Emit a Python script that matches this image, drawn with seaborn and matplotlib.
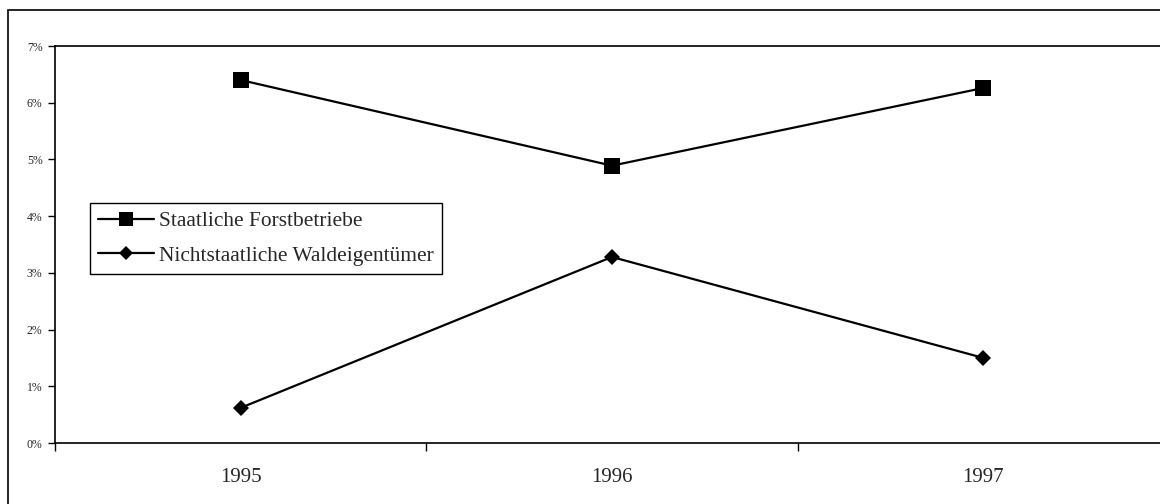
import matplotlib
matplotlib.use("Agg")
import matplotlib.pyplot as plt
import matplotlib.patches as mpatches
from matplotlib.ticker import FixedLocator, PercentFormatter
import pandas as pd
import seaborn as sns

years = ["1995", "1996", "1997"]
staatlich = [6.40, 4.89, 6.26]
nichtstaatlich = [0.62, 3.28, 1.50]
series_names = ["Staatliche Forstbetriebe", "Nichtstaatliche Waldeigentümer"]
y_ticks = [0, 1, 2, 3, 4, 5, 6, 7]

df = pd.DataFrame({
    "Jahr": years * 2,
    "Anteil": staatlich + nichtstaatlich,
    "Gruppe": [series_names[0]] * 3 + [series_names[1]] * 3,
})

sns.set_theme(style="white")
plt.rcParams["font.family"] = ["Liberation Serif", "DejaVu Serif"]

fig = plt.figure(figsize=(11.6, 5.04), dpi=100)
W, H = 1160, 504
left, right, top, bottom = 55, 1169, 46, 443
ax = fig.add_axes([left / W, 1 - bottom / H, (right - left) / W, (bottom - top) / H])

sns.lineplot(
    data=df, x="Jahr", y="Anteil", hue="Gruppe", style="Gruppe",
    palette=["black", "black"], markers=["s", "D"], dashes=False,
    markersize=11, linewidth=1.6, markeredgewidth=0, ax=ax,
)
for line, ms in zip(ax.get_lines(), [11.5, 7.8]):
    line.set_markersize(ms)

ax.set_xlim(-0.5, 2.5)
ax.set_ylim(0, 7)
ax.set_xlabel("")
ax.set_ylabel("")

ax.yaxis.set_major_locator(FixedLocator(y_ticks))
ax.yaxis.set_major_formatter(PercentFormatter(decimals=0))
ax.tick_params(axis="y", which="major", direction="out", length=5, width=1,
               color="black", labelsize=8.5, pad=4, left=True)
ax.set_xticks(range(len(years)))
ax.set_xticklabels(years)
ax.tick_params(axis="x", which="major", length=0, labelsize=15, pad=18)
ax.xaxis.set_minor_locator(FixedLocator([-0.5, 0.5, 1.5, 2.5]))
ax.tick_params(axis="x", which="minor", direction="out", length=6, width=1,
               color="black", bottom=True)

for side in ["left", "bottom", "top", "right"]:
    ax.spines[side].set_color("black")
    ax.spines[side].set_linewidth(1.2)

handles, labels = ax.get_legend_handles_labels()
leg = ax.legend(
    handles, labels, loc="upper left",
    bbox_to_anchor=((90 - left) / (right - left), (bottom - 203) / (bottom - top)),
    frameon=True, fancybox=False, edgecolor="black", framealpha=1,
    fontsize=15.4, handlelength=2.6, handletextpad=0.25, borderpad=0.38,
    labelspacing=0.68, borderaxespad=0,
)
leg.get_frame().set_linewidth(1.0)
for h, ms in zip(leg.legend_handles, [9.5, 7.5]):
    h.set_markersize(ms)

# outer chart frame
fig.patches.append(mpatches.Rectangle(
    (8 / W, -0.1), 1.2, 1 - 10 / H + 0.1, transform=fig.transFigure,
    fill=False, edgecolor="black", linewidth=1.2, clip_on=False))

fig.savefig("out.png", dpi=100)
